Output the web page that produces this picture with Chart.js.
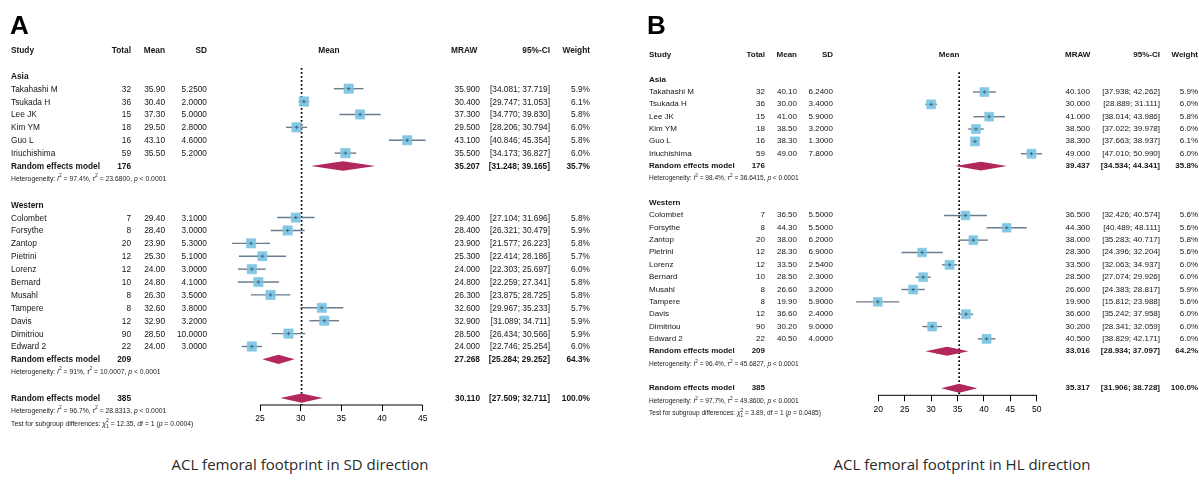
<!DOCTYPE html>
<html>
<head>
<meta charset="utf-8">
<script src="https://cdn.jsdelivr.net/npm/chart.js@4.4.1/dist/chart.umd.min.js"></script>
<style>
html, body { margin: 0; padding: 0; background: #fff; }
body { width: 1199px; height: 484px; position: relative; overflow: hidden; font-family: "Liberation Sans", Arial, sans-serif; }
.panel { position: absolute; top: 0; height: 440px; }
.panel canvas { position: absolute; left: 0; top: 0; }
.t { position: absolute; white-space: nowrap; line-height: 1; color: #151515; transform: translateY(-50%); }
.b { font-weight: bold; }
.small { color: #222; }
.t sup, .t sub { font-size: 0.72em; line-height: 0; }
.letter { position: absolute; top: 12px; font: bold 26px "Liberation Sans", Arial, sans-serif; line-height: 1; color: #000; }
.caption { position: absolute; top: 454px; font: 15px "Open Sans", sans-serif; color: #2a2a2a; transform: translateX(-50%); white-space: nowrap; }
</style>
</head>
<body>
<div class="panel" id="panelA" style="left:0;width:600px">
  <canvas id="chartA" width="600" height="440"></canvas>
  <div class="letter" style="left:10px">A</div>
</div>
<div class="panel" id="panelB" style="left:600px;width:599px">
  <canvas id="chartB" width="599" height="440"></canvas>
  <div class="letter" style="left:47px">B</div>
</div>
<div class="caption" style="left:300px">ACL femoral footprint in SD direction</div>
<div class="caption" style="left:962px">ACL femoral footprint in HL direction</div>

<script>
// studies (same for both panels)
const asiaStudies = ['Takahashi M', 'Tsukada H', 'Lee JK', 'Kim YM', 'Guo L', 'Iriuchishima'];
const westStudies = ['Colombet', 'Forsythe', 'Zantop', 'Pietrini', 'Lorenz', 'Bernard', 'Musahl', 'Tampere', 'Davis', 'Dimitriou', 'Edward 2'];
const asiaTotals = [32, 36, 15, 18, 16, 59];
const westTotals = [7, 8, 20, 12, 12, 10, 8, 8, 12, 90, 22];
const pooledTotals = [176, 209, 385];

// A: SD direction
const sdAsiaMean = [35.90, 30.40, 37.30, 29.50, 43.10, 35.50];
const sdAsiaSD = [5.25, 2.0, 5.0, 2.8, 4.6, 5.2];
const sdAsiaLow = [34.081, 29.747, 34.770, 28.206, 40.846, 34.173];
const sdAsiaHigh = [37.719, 31.053, 39.830, 30.794, 45.354, 36.827];
const sdAsiaWeight = [5.9, 6.1, 5.8, 6.0, 5.8, 6.0];
const sdWestMean = [29.40, 28.40, 23.90, 25.30, 24.00, 24.80, 26.30, 32.60, 32.90, 28.50, 24.00];
const sdWestSD = [3.1, 3.0, 5.3, 5.1, 3.0, 4.1, 3.5, 3.8, 3.2, 10.0, 3.0];
const sdWestLow = [27.104, 26.321, 21.577, 22.414, 22.303, 22.259, 23.875, 29.967, 31.089, 26.434, 22.746];
const sdWestHigh = [31.696, 30.479, 26.223, 28.186, 25.697, 27.341, 28.725, 35.233, 34.711, 30.566, 25.254];
const sdWestWeight = [5.8, 5.9, 5.8, 5.7, 6.0, 5.8, 5.8, 5.7, 5.9, 5.9, 6.0];
const sdPooledMean = [35.207, 27.268, 30.110];
const sdPooledLow = [31.248, 25.284, 27.509];
const sdPooledHigh = [39.165, 29.252, 32.711];
const sdPooledWeight = [35.7, 64.3, 100.0];
const sdI2 = ['97.4%', '91%', '96.7%'];
const sdTau2 = ['23.6800', '10.0007', '28.8313'];
const sdSubgroupTest = ['12.35', '0.0004'];
const sdTicks = [25, 30, 35, 40, 45];

// B: HL direction
const hlAsiaMean = [40.10, 30.00, 41.00, 38.50, 38.30, 49.00];
const hlAsiaSD = [6.24, 3.4, 5.9, 3.2, 1.3, 7.8];
const hlAsiaLow = [37.938, 28.889, 38.014, 37.022, 37.663, 47.010];
const hlAsiaHigh = [42.262, 31.111, 43.986, 39.978, 38.937, 50.990];
const hlAsiaWeight = [5.9, 6.0, 5.8, 6.0, 6.1, 6.0];
const hlWestMean = [36.50, 44.30, 38.00, 28.30, 33.50, 28.50, 26.60, 19.90, 36.60, 30.20, 40.50];
const hlWestSD = [5.5, 5.5, 6.2, 6.9, 2.54, 2.3, 3.2, 5.9, 2.4, 9.0, 4.0];
const hlWestLow = [32.426, 40.489, 35.283, 24.396, 32.063, 27.074, 24.383, 15.812, 35.242, 28.341, 38.829];
const hlWestHigh = [40.574, 48.111, 40.717, 32.204, 34.937, 29.926, 28.817, 23.988, 37.958, 32.059, 42.171];
const hlWestWeight = [5.6, 5.6, 5.8, 5.6, 6.0, 6.0, 5.9, 5.6, 6.0, 6.0, 6.0];
const hlPooledMean = [39.437, 33.016, 35.317];
const hlPooledLow = [34.534, 28.934, 31.906];
const hlPooledHigh = [44.341, 37.097, 38.728];
const hlPooledWeight = [35.8, 64.2, 100.0];
const hlI2 = ['98.4%', '96.4%', '97.7%'];
const hlTau2 = ['36.6415', '45.6827', '49.8600'];
const hlSubgroupTest = ['3.89', '0.0485'];
const hlTicks = [20, 25, 30, 35, 40, 45, 50];

Chart.defaults.font.family = '"Liberation Sans", Arial, sans-serif';

const ci = (lo, hi) => '[' + lo.toFixed(3) + '; ' + hi.toFixed(3) + ']';

function forestPanel(panelId, canvasId, groups, pooled, het, test, ticks, g) {
  const panel = document.getElementById(panelId);
  const studies = [];
  const diamonds = [];
  const rows = [];

  // lay out the rows, one unit per line
  let k = 2;
  groups.forEach((grp, gi) => {
    rows.push({ k, type: 'group', label: grp.label });
    k++;
    grp.names.forEach((name, i) => {
      studies.push({ k, mean: grp.mean[i], lo: grp.lo[i], hi: grp.hi[i], w: grp.w[i] });
      rows.push({ k, type: 'study', cells: [name, grp.totals[i], grp.mean[i].toFixed(2), grp.sd[i].toFixed(4),
        grp.mean[i].toFixed(3), ci(grp.lo[i], grp.hi[i]), grp.w[i].toFixed(1) + '%'] });
      k++;
    });
    diamonds.push({ k, mean: pooled.mean[gi], lo: pooled.lo[gi], hi: pooled.hi[gi] });
    rows.push({ k, type: 'pooled', cells: ['Random effects model', pooledTotals[gi], '', '',
      pooled.mean[gi].toFixed(3), ci(pooled.lo[gi], pooled.hi[gi]), pooled.w[gi].toFixed(1) + '%'] });
    k++;
    rows.push({ k, type: 'het', idx: gi });
    k += 2;
  });
  diamonds.push({ k, mean: pooled.mean[2], lo: pooled.lo[2], hi: pooled.hi[2] });
  rows.push({ k, type: 'pooled', cells: ['Random effects model', pooledTotals[2], '', '',
    pooled.mean[2].toFixed(3), ci(pooled.lo[2], pooled.hi[2]), pooled.w[2].toFixed(1) + '%'] });
  rows.push({ k: k + 1, type: 'het', idx: 2 });
  rows.push({ k: k + 2, type: 'test' });

  const overall = pooled.mean[2];
  const clr = { box: 'rgba(118,196,228,0.92)', boxEdge: '#86c3dc', ci: '#6a7b8c', diamond: '#b2275c' };
  const tMin = ticks[0], tMax = ticks[ticks.length - 1];

  // plot range is a bit wider than the axis so marks below the first tick still draw
  const ppu = (g.tickR - g.tickL) / (tMax - tMin);
  const xmin = Math.min(tMin, ...studies.map(s => s.lo)) - 0.5;
  const xmax = Math.max(tMax, ...studies.map(s => s.hi)) + 0.5;
  const padL = g.tickL - (tMin - xmin) * ppu;
  const padR = g.width - (g.tickR + (xmax - tMax) * ppu);

  const datasets = [];
  datasets.push({
    data: [{ x: tMin, y: g.kMax }, { x: tMax, y: g.kMax }],
    showLine: true, borderColor: '#000', borderWidth: 1, pointRadius: 0, clip: false, order: 6
  });
  datasets.push({
    data: [{ x: overall, y: 1.4 }, { x: overall, y: g.kMax }],
    showLine: true, borderColor: '#000', borderWidth: 1.7, borderDash: [1.6, 2.4],
    pointRadius: 0, clip: false, order: 5
  });
  studies.forEach(s => datasets.push({
    data: [{ x: s.lo, y: s.k }, { x: s.hi, y: s.k }],
    showLine: true, borderColor: clr.ci, borderWidth: 1.4, pointRadius: 0, clip: false, order: 4
  }));
  datasets.push({
    data: studies.map(s => ({ x: s.mean, y: s.k })),
    pointStyle: 'rect', pointRadius: studies.map(s => g.box * Math.sqrt(s.w / 6) / 1.414),
    backgroundColor: clr.box, borderColor: clr.boxEdge, borderWidth: 0.6, clip: false, order: 3
  });
  datasets.push({
    data: studies.map(s => ({ x: s.mean, y: s.k })),
    pointStyle: 'cross', pointRadius: 1.8, borderColor: '#44566b', borderWidth: 0.8, clip: false, order: 2
  });

  const diamondPlugin = {
    id: 'diamonds',
    afterDatasetsDraw(chart) {
      const { ctx, scales: { x, y } } = chart;
      ctx.save();
      ctx.fillStyle = clr.diamond;
      diamonds.forEach(d => {
        const yc = y.getPixelForValue(d.k);
        const h = Math.abs(y.getPixelForValue(d.k + 0.36) - yc);
        ctx.beginPath();
        ctx.moveTo(x.getPixelForValue(d.lo), yc);
        ctx.lineTo(x.getPixelForValue(d.mean), yc - h);
        ctx.lineTo(x.getPixelForValue(d.hi), yc);
        ctx.lineTo(x.getPixelForValue(d.mean), yc + h);
        ctx.closePath();
        ctx.fill();
      });
      ctx.restore();
    }
  };

  const chart = new Chart(document.getElementById(canvasId), {
    type: 'scatter',
    data: { datasets },
    options: {
      responsive: false,
      animation: false,
      events: [],
      layout: { padding: { left: padL, right: padR, top: g.top, bottom: g.bottom } },
      plugins: { legend: { display: false }, tooltip: { enabled: false } },
      scales: {
        x: {
          type: 'linear', min: xmin, max: xmax,
          afterBuildTicks: axis => { axis.ticks = ticks.map(v => ({ value: v })); },
          grid: { drawOnChartArea: false, drawTicks: true, tickLength: 6, color: '#000', lineWidth: 1 },
          border: { display: false },
          ticks: { color: '#000', padding: 3, maxRotation: 0, font: { size: 8.5 } }
        },
        y: { type: 'linear', display: false, reverse: true, min: 0, max: g.kMax }
      }
    },
    plugins: [diamondPlugin]
  });

  // table text, placed on the same row scale as the marks
  const ys = chart.scales.y, xs = chart.scales.x;
  function put(html, row, x, align, cls, size) {
    const el = document.createElement('div');
    el.className = 't ' + (cls || '');
    el.innerHTML = html;
    el.style.fontSize = (size || g.fs) + 'px';
    el.style.top = ys.getPixelForValue(row) + 'px';
    if (align === 'right') el.style.right = (g.width - x) + 'px';
    else if (align === 'center') { el.style.left = x + 'px'; el.style.transform = 'translate(-50%,-50%)'; }
    else el.style.left = x + 'px';
    panel.appendChild(el);
  }

  const allLow = Math.min(...studies.map(s => s.lo));
  const allHigh = Math.max(...studies.map(s => s.hi));
  put('Study', 0, g.studyL, 'left', 'b');
  put('Total', 0, g.totalR, 'right', 'b');
  put('Mean', 0, g.meanR, 'right', 'b');
  put('SD', 0, g.sdR, 'right', 'b');
  put('Mean', 0, (xs.getPixelForValue(allLow) + xs.getPixelForValue(allHigh)) / 2, 'center', 'b');
  put('MRAW', 0, g.mrawL, 'left', 'b');
  put('95%-CI', 0, g.ciR, 'right', 'b');
  put('Weight', 0, g.wR, 'right', 'b');

  const hs = g.fs * 0.82;
  rows.forEach(r => {
    if (r.type === 'group') {
      put(r.label, r.k, g.studyL, 'left', 'b');
    } else if (r.type === 'study' || r.type === 'pooled') {
      const c = r.cells, b = r.type === 'pooled' ? 'b' : '';
      put(c[0], r.k, g.studyL, 'left', b);
      put(String(c[1]), r.k, g.totalR, 'right', b);
      if (c[2]) put(c[2], r.k, g.meanR, 'right', b);
      if (c[3]) put(c[3], r.k, g.sdR, 'right', b);
      put(c[4], r.k, g.mrawR, 'right', b);
      put(c[5], r.k, g.ciR, 'right', b);
      put(c[6], r.k, g.wR, 'right', b);
    } else if (r.type === 'het') {
      put('Heterogeneity: <i>I</i><sup>2</sup> = ' + het.i2[r.idx] + ', <i>τ</i><sup>2</sup> = ' + het.tau2[r.idx] +
        ', <i>p</i> &lt; 0.0001', r.k, g.studyL, 'left', 'small', hs);
    } else {
      put('Test for subgroup differences: <i>χ</i><sup>2</sup><sub style="margin-left:-0.55em">1</sub> = ' + test[0] +
        ', df = 1 (<i>p</i> = ' + test[1] + ')', r.k, g.studyL, 'left', 'small', hs);
    }
  });
}

forestPanel('panelA', 'chartA',
  [
    { label: 'Asia', names: asiaStudies, totals: asiaTotals, mean: sdAsiaMean, sd: sdAsiaSD, lo: sdAsiaLow, hi: sdAsiaHigh, w: sdAsiaWeight },
    { label: 'Western', names: westStudies, totals: westTotals, mean: sdWestMean, sd: sdWestSD, lo: sdWestLow, hi: sdWestHigh, w: sdWestWeight }
  ],
  { mean: sdPooledMean, lo: sdPooledLow, hi: sdPooledHigh, w: sdPooledWeight },
  { i2: sdI2, tau2: sdTau2 }, sdSubgroupTest, sdTicks,
  { width: 600, tickL: 260, tickR: 422.7, top: 50, bottom: 12.8, kMax: 27.54, fs: 8.3, box: 9.4,
    studyL: 11, totalR: 131, meanR: 165, sdR: 207, mrawL: 451, mrawR: 480, ciR: 550, wR: 590 });

forestPanel('panelB', 'chartB',
  [
    { label: 'Asia', names: asiaStudies, totals: asiaTotals, mean: hlAsiaMean, sd: hlAsiaSD, lo: hlAsiaLow, hi: hlAsiaHigh, w: hlAsiaWeight },
    { label: 'Western', names: westStudies, totals: westTotals, mean: hlWestMean, sd: hlWestSD, lo: hlWestLow, hi: hlWestHigh, w: hlWestWeight }
  ],
  { mean: hlPooledMean, lo: hlPooledLow, hi: hlPooledHigh, w: hlPooledWeight },
  { i2: hlI2, tau2: hlTau2 }, hlSubgroupTest, hlTicks,
  { width: 599, tickL: 278.3, tickR: 436.7, top: 55, bottom: 22.5, kMax: 27.57, fs: 8.0, box: 9.0,
    studyL: 49, totalR: 165, meanR: 197, sdR: 233, mrawL: 465, mrawR: 490, ciR: 560, wR: 598 });
</script>
</body>
</html>
